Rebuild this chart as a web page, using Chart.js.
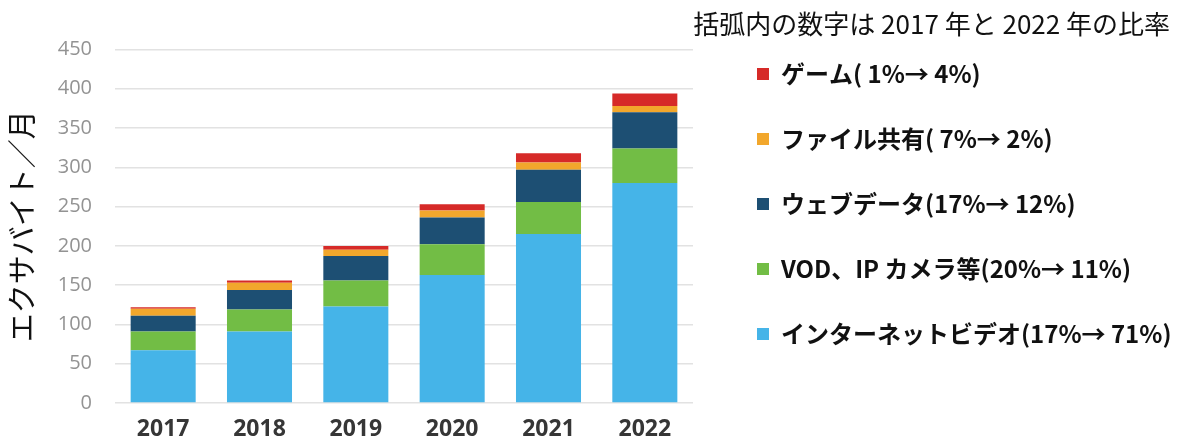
<!DOCTYPE html>
<html>
<head>
<meta charset="utf-8">
<script src="https://cdn.jsdelivr.net/npm/chart.js@4/dist/chart.umd.min.js"></script>
<style>
  html, body { margin: 0; padding: 0; background: #ffffff; }
  #wrap { width: 1192px; height: 442px; }
</style>
</head>
<body>
<div id="wrap"><canvas id="c" width="1192" height="442"></canvas></div>
<script>
// ---- data ----
const years = ['2017', '2018', '2019', '2020', '2021', '2022'];
const internetVideo = [67, 91, 123, 163, 215, 280];
const vodIpCamera   = [24, 28, 33, 39, 41, 44];
const webData       = [20, 25, 31, 34, 41, 46];
const fileSharing   = [9, 9, 8, 9, 9, 8];
const gaming        = [2, 3, 5, 8, 12, 16];
const seriesNames = [
  'インターネットビデオ(17%→ 71%)',
  'VOD、IP カメラ等(20%→ 11%)',
  'ウェブデータ(17%→ 12%)',
  'ファイル共有( 7%→ 2%)',
  'ゲーム( 1%→ 4%)'
];
const yTicks = [0, 50, 100, 150, 200, 250, 300, 350, 400, 450];
const yTitle = 'エクサバイト／月';
const headingText = '括弧内の数字は 2017 年と 2022 年の比率';

// ---- styles ----
const colors = ['#45b4e8', '#72bd45', '#1d4f73', '#f2a72c', '#d62a28'];
const JP = "'Noto Sans CJK JP', 'Noto Sans', sans-serif";
const LAT = "'Open Sans', 'Liberation Sans', sans-serif";
const W = 1192, PAD_R = 22, PAD_T = 21, PLOT_RIGHT = 693, LEGEND_W = 454;

const seriesValues = [internetVideo, vodIpCamera, webData, fileSharing, gaming];
const datasets = seriesValues.map((vals, i) => ({
  label: seriesNames[i],
  data: vals,
  backgroundColor: colors[i],
  borderWidth: 0,
  barPercentage: 0.675,
  categoryPercentage: 1.0
}));

new Chart(document.getElementById('c'), {
  type: 'bar',
  data: { labels: years, datasets },
  options: {
    responsive: false,
    animation: false,
    devicePixelRatio: 1,
    layout: { padding: { left: 0, right: PAD_R, top: PAD_T, bottom: 0 } },
    plugins: {
      tooltip: { enabled: false },
      title: {
        display: true,
        text: headingText,
        position: 'top',
        align: 'end',
        fullSize: true,
        color: '#111',
        font: { family: JP, size: 26, weight: 'normal', lineHeight: 0.2 },
        padding: { top: 0.4, bottom: 22.9 }
      },
      legend: {
        position: 'right',
        align: 'start',
        reverse: true,
        maxWidth: LEGEND_W,
        labels: {
          boxWidth: 12,
          boxHeight: 12,
          padding: 41,
          color: '#111',
          font: { family: JP, size: 24, weight: 'bold' }
        }
      }
    },
    scales: {
      x: {
        stacked: true,
        grid: { display: false, drawTicks: false },
        border: { display: false },
        afterFit: (s) => { s.height = 39; },
        ticks: {
          color: '#363636',
          padding: 13,
          font: { family: LAT, size: 23, weight: 'bold' }
        }
      },
      y: {
        stacked: true,
        min: 0,
        max: 450,
        afterBuildTicks: (s) => { s.ticks = yTicks.map(v => ({ value: v })); },
        afterFit: (s) => { s.width = 115; },
        grid: { color: '#e2e2e2', lineWidth: 1.6, drawTicks: false },
        border: { display: false },
        ticks: {
          color: '#939393',
          padding: 23,
          font: { family: LAT, size: 20 }
        },
        title: {
          display: true,
          text: yTitle,
          color: '#111',
          font: { family: JP, size: 29, weight: 'normal', lineHeight: 1.2 },
          padding: { top: 5, bottom: 0 }
        }
      },
      gap: {
        type: 'linear',
        position: 'right',
        display: true,
        grid: { display: false },
        border: { display: false },
        ticks: { display: false },
        afterFit: (s) => {
          const lg = s.chart.legend;
          const lw = (lg && lg.width) ? lg.width : LEGEND_W;
          s.width = Math.max(0, W - PAD_R - lw - PLOT_RIGHT);
        }
      }
    }
  }
});
</script>
</body>
</html>
